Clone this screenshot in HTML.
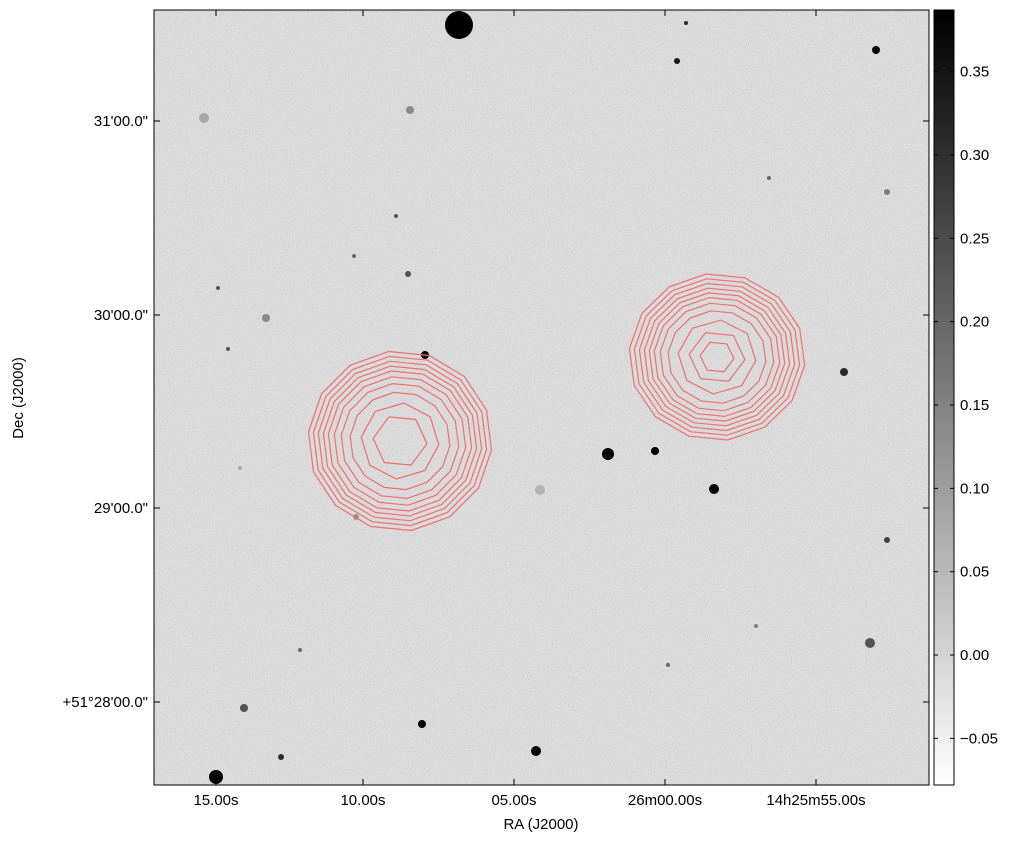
<!DOCTYPE html>
<html><head><meta charset="utf-8"><style>
body{margin:0;background:#fff;font-family:"Liberation Sans",sans-serif}
svg text{font-family:"Liberation Sans",sans-serif;font-size:15px;fill:#000}
</style></head><body>
<svg width="1020" height="843" viewBox="0 0 1020 843">
<defs>
<filter id="noise" x="0" y="0" width="100%" height="100%">
<feTurbulence type="fractalNoise" baseFrequency="0.95" numOctaves="1" seed="3"/>
<feColorMatrix type="matrix" values="1.6 0 0 0 0.05  1.6 0 0 0 0.05  1.6 0 0 0 0.05  0 0 0 0 1"/>
</filter>
<linearGradient id="cb" x1="0" y1="1" x2="0" y2="0">
<stop offset="0" stop-color="#fff"/><stop offset="1" stop-color="#000"/>
</linearGradient>
<clipPath id="clip"><rect x="154" y="10" width="775" height="775"/></clipPath>
</defs>
<g id="plot" clip-path="url(#clip)">
<rect x="154" y="10" width="775" height="775" fill="#d6d6d6"/>
<rect x="154" y="10" width="775" height="775" fill="#bbb" filter="url(#noise)" opacity="0.2"/>
</g>
<rect x="154" y="10" width="775" height="775" fill="none" stroke="#000" stroke-width="1"/>
<g id="xticks"></g>
<g id="yticks"></g>
<text x="541" y="829" text-anchor="middle">RA (J2000)</text>
<text transform="translate(23,398) rotate(-90)" text-anchor="middle">Dec (J2000)</text>
<rect x="934" y="10" width="20" height="775" fill="url(#cb)" stroke="#000"/>
<g id="cbticks"></g>
</svg>
<script>
const NS='http://www.w3.org/2000/svg';
const xTickLabels=['15.00s','10.00s','05.00s','26m00.00s','14h25m55.00s'];
const xTickPos=[216,363,514,665,816];
const yTickLabels=['31\'00.0"','30\'00.0"','29\'00.0"','+51°28\'00.0"'];
const yTickPos=[121,315,508,702];
const cbTicks=[0.35,0.30,0.25,0.20,0.15,0.10,0.05,0.00,-0.05];
const cbMin=-0.078, cbMax=0.387;
// stars: [x, y, radius, darkness]
const stars=[[459,25,14,1],[216,777,7,1],[536,751,5,1],[422,724,4,1],[608,454,6,1],[655,451,4,1],[714,489,5,1],[425,355,4,1],[876,50,4,1],[677,61,3,0.9],[686,23,2,0.8],[844,372,4,0.8],[870,643,5,0.6],[887,540,3,0.7],[244,708,4,0.6],[281,757,3,0.8],[410,110,4,0.35],[204,118,5,0.2],[266,318,4,0.35],[408,274,3,0.6],[396,216,2,0.6],[354,256,2,0.5],[218,288,2,0.6],[228,349,2,0.6],[540,490,5,0.15],[769,178,2,0.5],[887,192,3,0.4],[668,665,2,0.5],[300,650,2,0.5],[756,626,2,0.4],[356,517,3,0.3],[240,468,2,0.2]];
// contours: centre and ring radii (px)
const contourCentersX=[400,717];
const contourCentersY=[441,357];
const leftRadii=[92,87,82,77,72,66,59,50,39,27];
const rightRadii=[88,83,78,73,68,63,57,49,39,28,17];
const plot=document.getElementById('plot');
function mk(tag,attrs,parent){const e=document.createElementNS(NS,tag);for(const k in attrs)e.setAttribute(k,attrs[k]);parent.appendChild(e);return e;}
stars.forEach(s=>{const g=Math.round(210*(1-s[3]));
 const c=mk('circle',{cx:s[0],cy:s[1],r:s[2],fill:`rgb(${g},${g},${g})`},plot);
 
 });
function ring(cx,cy,r,sy,n){let p=[];for(let i=0;i<n;i++){const a=i/n*2*Math.PI+0.1;p.push((cx+r*Math.cos(a)).toFixed(1)+','+(cy+r*sy*Math.sin(a)).toFixed(1));}return p.join(' ');}
[leftRadii,rightRadii].forEach((rs,k)=>{rs.forEach((r,i)=>{
 const n=r<45?(r<30?6:8):14;
 const p=mk('polygon',{points:ring(contourCentersX[k],contourCentersY[k],r,k?0.95:0.98,n),fill:'none',stroke:'#f07070','stroke-width':1.2},plot);
 
 });});
const xt=document.getElementById('xticks');
xTickLabels.forEach((l,i)=>{const x=xTickPos[i];
 mk('line',{x1:x,y1:785,x2:x,y2:779,stroke:'#000'},xt);mk('line',{x1:x,y1:10,x2:x,y2:16,stroke:'#000'},xt);
 const t=mk('text',{x:x,y:805,'text-anchor':'middle'},xt);t.textContent=l;
 
 });
const yt=document.getElementById('yticks');
yTickLabels.forEach((l,i)=>{const y=yTickPos[i];
 mk('line',{x1:154,y1:y,x2:160,y2:y,stroke:'#000'},yt);mk('line',{x1:929,y1:y,x2:923,y2:y,stroke:'#000'},yt);
 const t=mk('text',{x:148,y:y+5,'text-anchor':'end'},yt);t.textContent=l;
 
 });
const cbt=document.getElementById('cbticks');
cbTicks.forEach(v=>{const y=785-(v-cbMin)/(cbMax-cbMin)*775;
 mk('line',{x1:934,y1:y,x2:938,y2:y,stroke:'#000'},cbt);mk('line',{x1:954,y1:y,x2:950,y2:y,stroke:'#000'},cbt);
 const t=mk('text',{x:960,y:y+5},cbt);t.textContent=(v<0?'\u2212':'')+Math.abs(v).toFixed(2);
 
 });
</script>
</body></html>
